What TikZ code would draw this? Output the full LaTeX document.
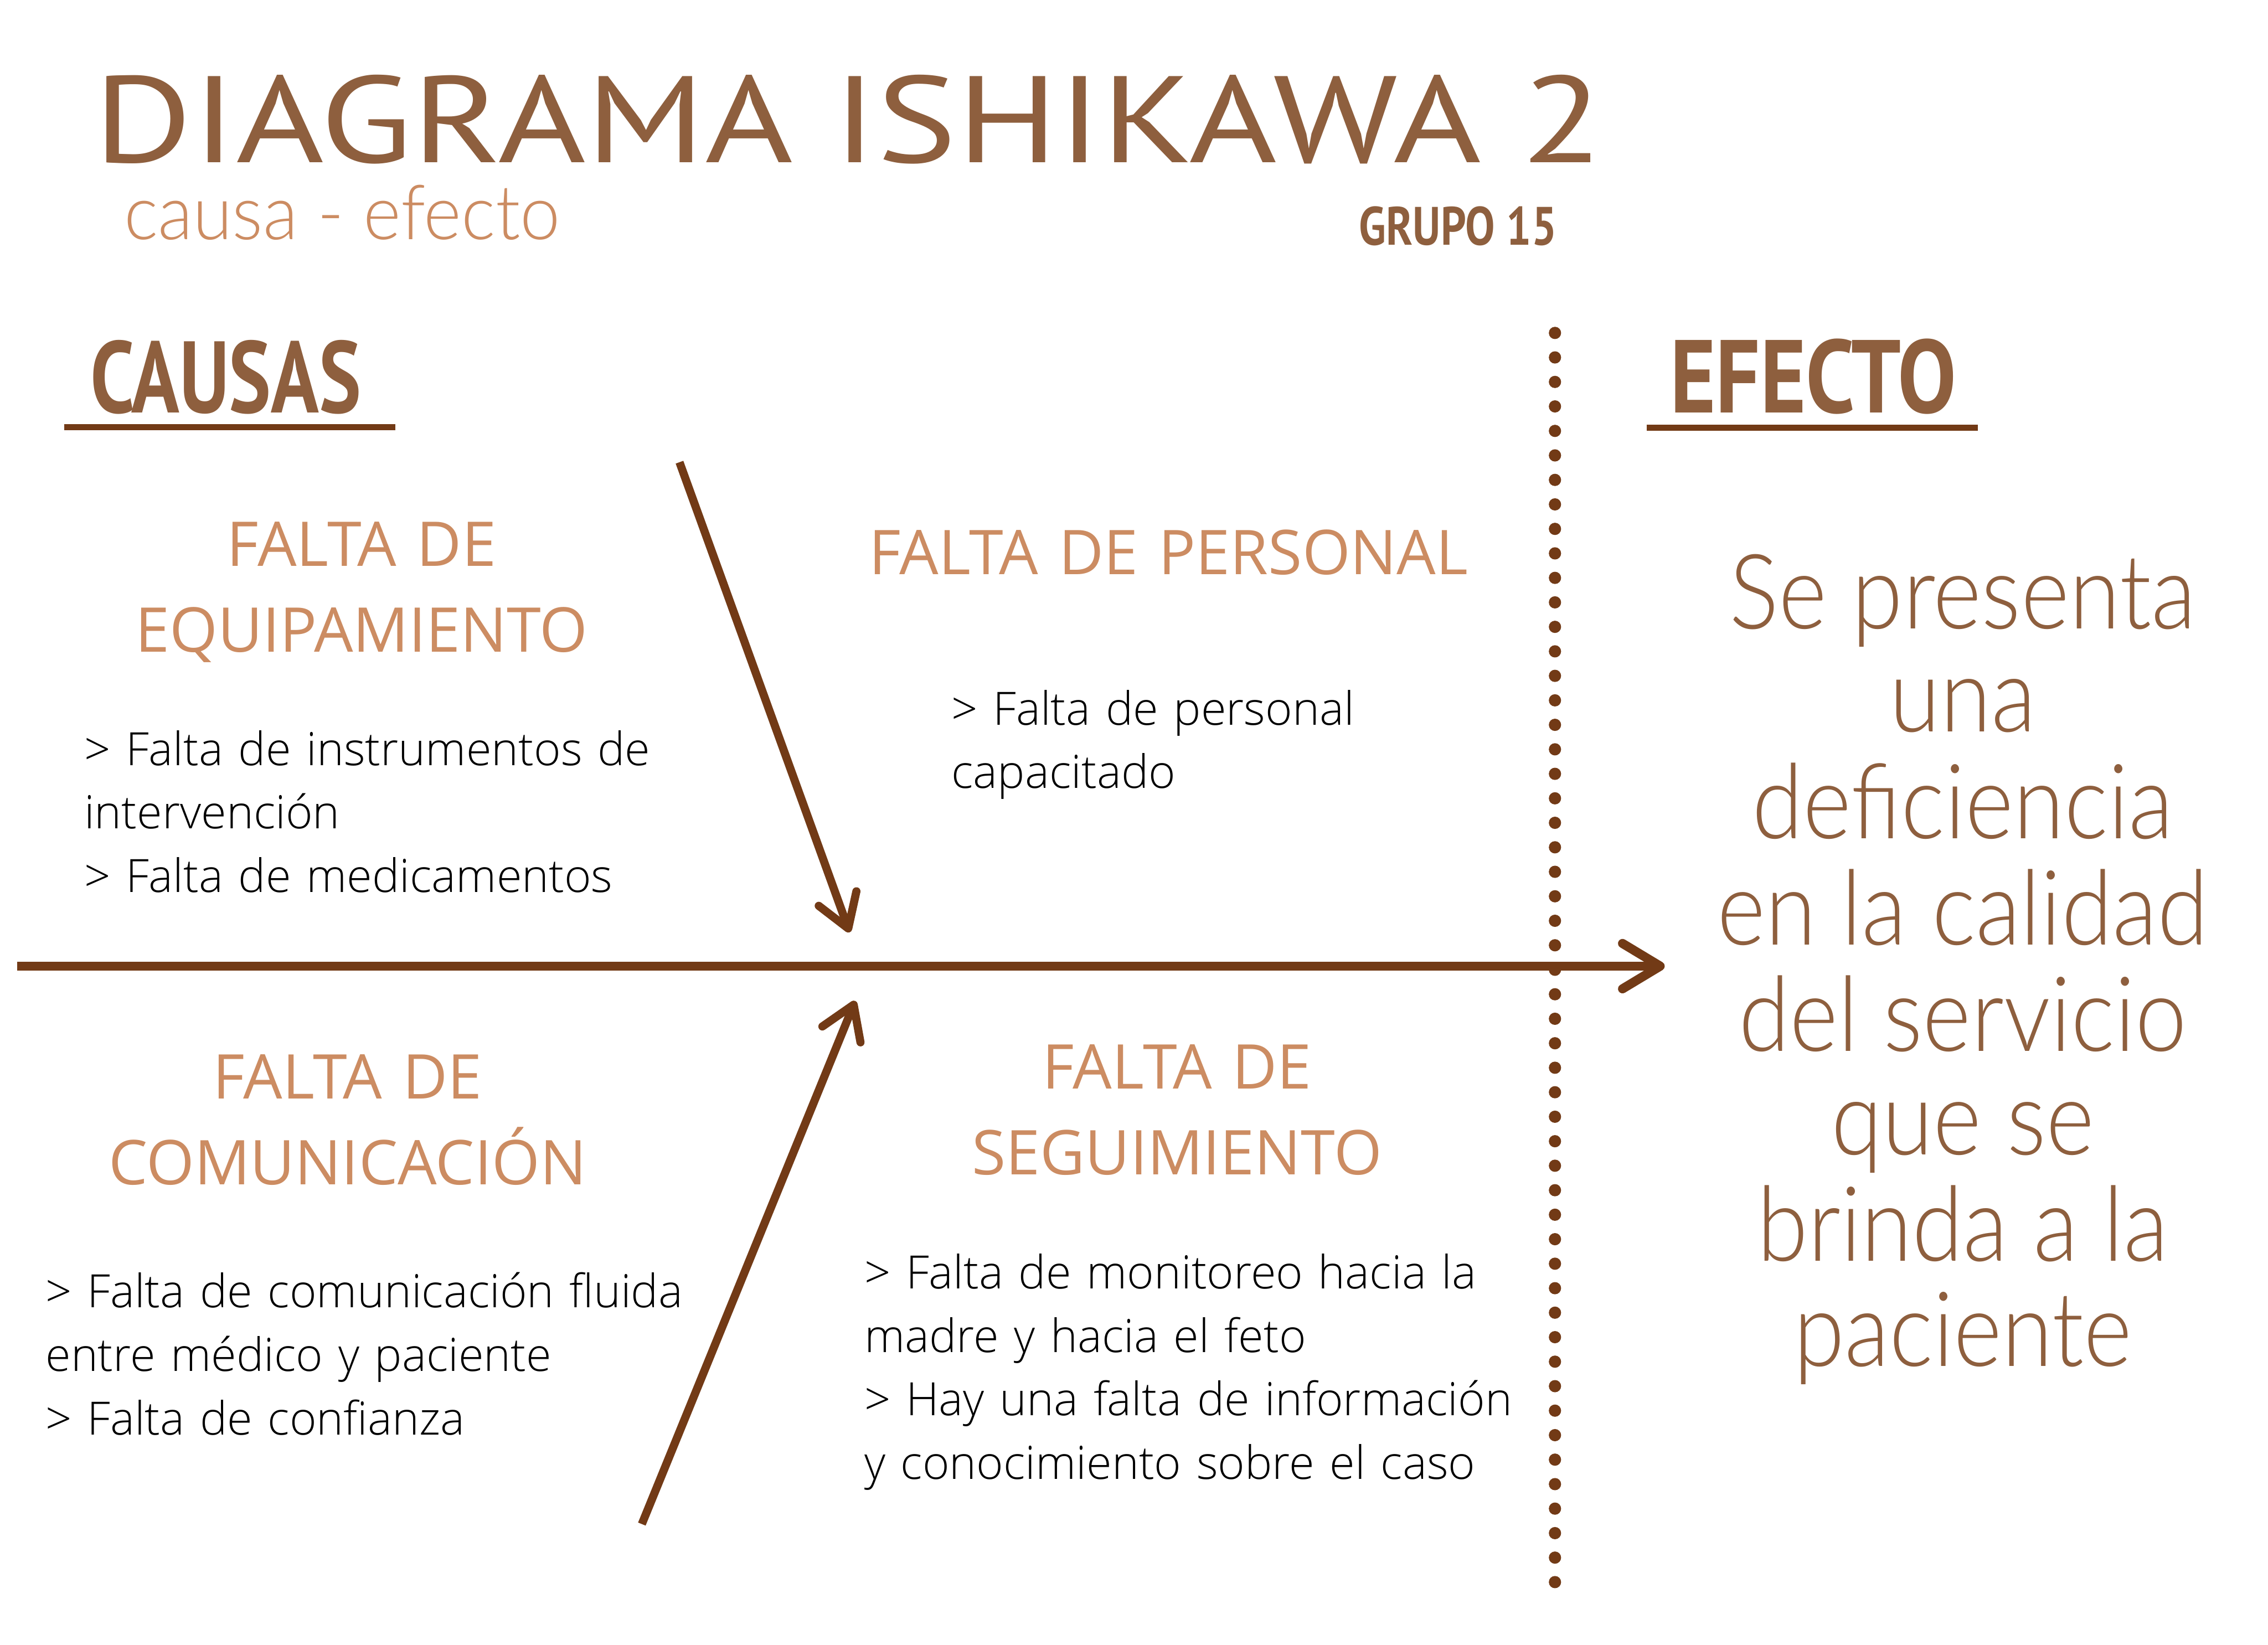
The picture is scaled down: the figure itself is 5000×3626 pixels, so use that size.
\documentclass[tikz,border=0pt]{standalone}
\usepackage{fontspec}
\setmainfont{Open Sans}
\newfontfamily\bodyfont{Open Sans}[UprightFont={* Light}]
\newfontfamily\titlefont{PT Sans}
\newfontfamily\effectfont{Lato}[UprightFont={* Light}]
\definecolor{bone}{RGB}{114,58,22}
\definecolor{titlebrown}{RGB}{142,95,62}
\definecolor{tan}{RGB}{204,140,98}
\begin{document}
\begin{tikzpicture}[x=0.01cm,y=-0.01cm,
  spine/.style={draw=bone, line width=5.7pt},
  rib/.style={draw=bone, line width=5.1pt},
  barb/.style={draw=bone, line width=5.1pt, line cap=round, line join=round},
  heading/.style={text=tan, font=\fontsize{38.7}{53.8}\selectfont, align=center, text width=13cm, inner sep=0pt, anchor=base},
  body/.style={text=black, font=\bodyfont\fontsize{28.8}{39.8}\selectfont, align=left, text width=16cm, inner sep=0pt, anchor=base west},
  bigtitle/.style={text=titlebrown, inner sep=0pt, anchor=base west},
  uline/.style={draw=bone, line width=4pt}]
\useasboundingbox[fill=white] (0,0) rectangle (5000,3626);

% titles
\node[bigtitle] (title) at (206,358) {\resizebox{33.26cm}{1.93cm}{\titlefont DIAGRAMA ISHIKAWA 2}};
\node[bigtitle, text=tan] (sub) at (273,528) {\resizebox{9.6cm}{1.2cm}{\effectfont causa - efecto}};
\node[bigtitle] (grupo) at (2996,540) {\resizebox{4.35cm}{0.85cm}{\titlefont\bfseries GRUPO 15}};
\node[bigtitle] (causas) at (199,910) {\resizebox{5.96cm}{1.6cm}{\titlefont\bfseries CAUSAS}};
\node[bigtitle] (efecto) at (3681,910) {\resizebox{6.31cm}{1.63cm}{\titlefont\bfseries EFECTO}};
\coordinate (cu1) at (142,942); \coordinate (cu2) at (872,942);
\coordinate (eu1) at (3630,943); \coordinate (eu2) at (4360,943);
\draw[uline] (cu1) -- (cu2);
\draw[uline] (eu1) -- (eu2);

% dotted divider
\foreach \i in {0,...,51} \fill[bone] (3428,734+54*\i) circle[radius=1.35mm];

% spine
\coordinate (spineL) at (38,2130);
\coordinate (tip) at (3660,2130);
\coordinate (tipA) at (3577,2080);
\coordinate (tipB) at (3577,2180);
\draw[spine] (spineL) -- (tip);
\draw[barb, line width=5.7pt] (tipA) -- (tip) -- (tipB);

% upper rib
\coordinate (utail) at (1498,1019);
\coordinate (utip) at (1870,2047);
\coordinate (uA) at (1805,1997);
\coordinate (uB) at (1888,1965);
\draw[rib] (utail) -- (utip);
\draw[barb] (uA) -- (utip) -- (uB);

% lower rib
\coordinate (ltail) at (1415,3360);
\coordinate (ltip) at (1882,2215);
\coordinate (lA) at (1813,2263);
\coordinate (lB) at (1897,2298);
\draw[rib] (ltail) -- (ltip);
\draw[barb] (lA) -- (ltip) -- (lB);

% headings
\node[heading] (h1) at (797,1248) {FALTA DE\\EQUIPAMIENTO};
\node[heading, text width=16cm, align=left, anchor=base west] (h2) at (1915,1266) {FALTA DE PERSONAL};
\node[heading] (h3) at (766,2422) {FALTA DE\\COMUNICACIÓN};
\node[heading] (h4) at (2595,2401) {FALTA DE\\SEGUIMIENTO};

% bodies
\node[body] (b1) at (185,1687) {> Falta de instrumentos de\\intervención\\> Falta de medicamentos};
\node[body] (b2) at (2097,1598) {> Falta de personal\\capacitado};
\node[body] (b3) at (100,2883) {> Falta de comunicación fluida\\entre médico y paciente\\> Falta de confianza};
\node[body] (b4) at (1905,2841) {> Falta de monitoreo hacia la\\madre y hacia el feto\\> Hay una falta de información\\y conocimiento sobre el caso};

% effect
\node[text=titlebrown, font=\effectfont\fontsize{65.2}{64.6}\selectfont, inner sep=0pt, anchor=base] (eff) at (4327,1386)
  {\scalebox{0.89}[1]{\begin{tabular}[t]{@{}c@{}}Se presenta\\una\\deficiencia\\en la calidad\\del servicio\\que se\\brinda a la\\paciente\end{tabular}}};
\end{tikzpicture}
\end{document}
